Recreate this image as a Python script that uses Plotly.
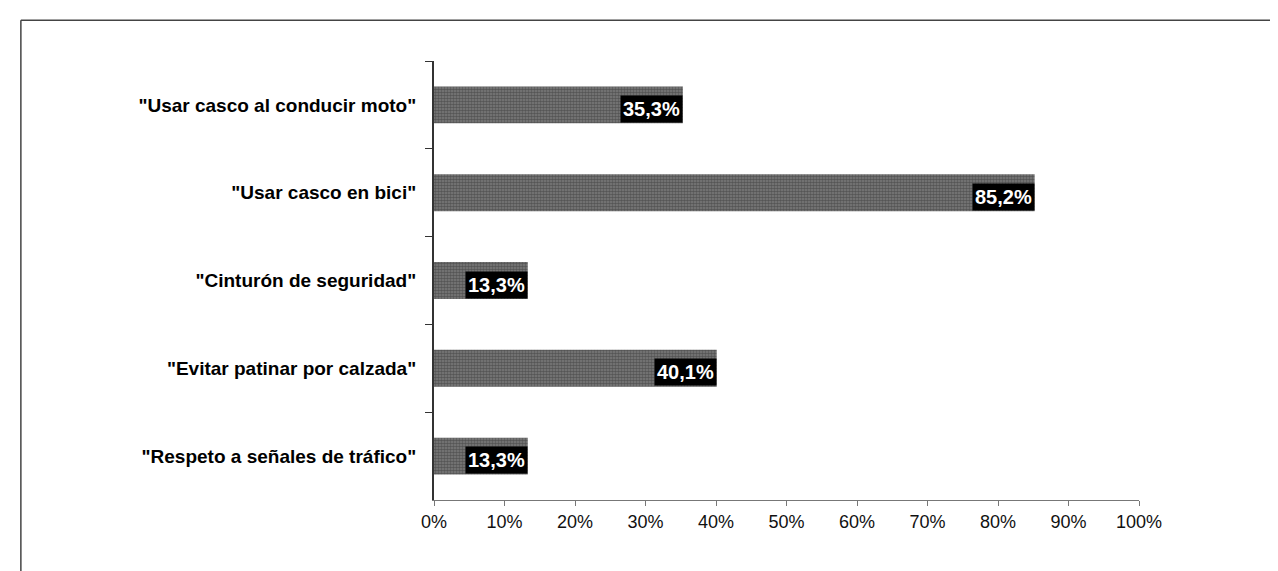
import plotly.graph_objects as go

categories = ['"Usar casco al conducir moto"', '"Usar casco en bici"', '"Cinturón de seguridad"',
              '"Evitar patinar por calzada"', '"Respeto a señales de tráfico"']
values = [35.3, 85.2, 13.3, 40.1, 13.3]
value_labels = ["35,3%", "85,2%", "13,3%", "40,1%", "13,3%"]
tick_vals = [0, 10, 20, 30, 40, 50, 60, 70, 80, 90, 100]
tick_text = ["0%", "10%", "20%", "30%", "40%", "50%", "60%", "70%", "80%", "90%", "100%"]

FONT = "Liberation Sans Narrow, Arial Narrow, Liberation Sans, sans-serif"

fig = go.Figure(go.Bar(
    x=values, y=categories, orientation="h",
    marker=dict(color="#7c7c7c", line=dict(width=0),
                pattern=dict(shape=".", fgcolor="#2e2e2e", size=3, solidity=0.6)),
    hoverinfo="skip",
))

for v, c, t in zip(values, categories, value_labels):
    fig.add_annotation(x=v, y=c, xref="x", yref="y", text="<b>" + t + "</b>",
                       showarrow=False, xanchor="right", yanchor="middle", yshift=-4,
                       bgcolor="black", borderpad=2,
                       font=dict(family=FONT, size=20, color="white"))

# outer frame (top and left lines)
fig.add_shape(type="line", xref="paper", yref="paper", x0=-0.586, x1=1.21, y0=1.093, y1=1.093,
              line=dict(color="#444", width=1.5))
fig.add_shape(type="line", xref="paper", yref="paper", x0=-0.586, x1=-0.586, y0=1.093, y1=-0.2,
              line=dict(color="#444", width=1.5))

fig.update_layout(
    width=1278, height=571,
    margin=dict(l=426, r=147, t=53, b=79),
    paper_bgcolor="white", plot_bgcolor="white",
    bargap=0.58, showlegend=False,
    font=dict(family=FONT, color="black"),
)
fig.update_xaxes(range=[0, 100], tickvals=tick_vals, ticktext=tick_text,
                 showgrid=False, zeroline=False, showline=True, linecolor="#777", linewidth=1,
                 ticks="outside", ticklen=5, tickcolor="#777",
                 tickfont=dict(family=FONT, size=18, color="#111"), fixedrange=True)
fig.update_yaxes(categoryorder="array", categoryarray=categories, autorange="reversed",
                 showgrid=False, zeroline=False, showline=True, linecolor="#333", linewidth=2,
                 ticks="outside", tickson="boundaries", ticklen=7, tickcolor="#333",
                 ticklabelstandoff=12,
                 tickfont=dict(family=FONT, size=19, color="black", weight="bold"), fixedrange=True)

fig.write_html("out.html")
